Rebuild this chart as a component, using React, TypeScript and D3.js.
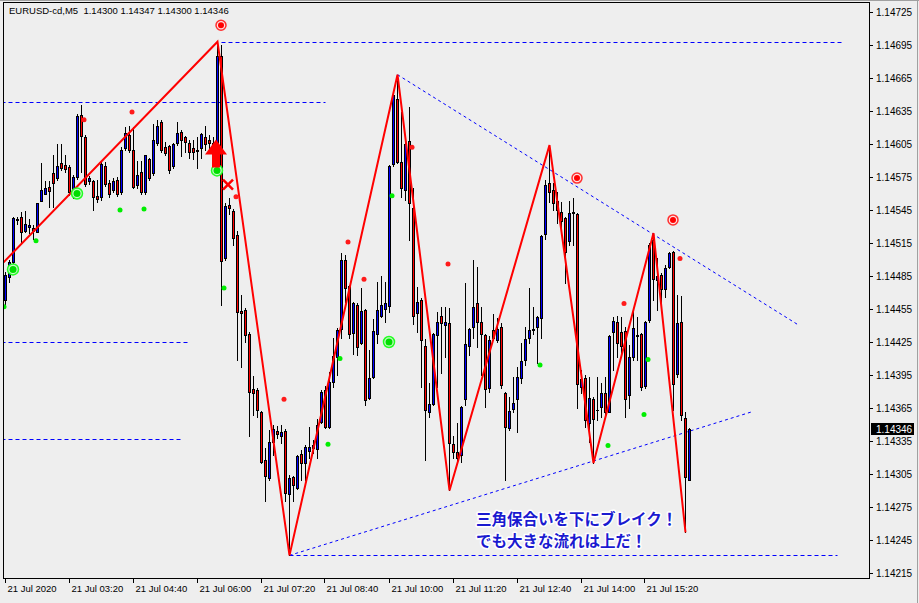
import React, { useRef, useEffect } from 'react';
import * as d3 from 'd3';

// EURUSD-cd M5, 21 Jul 2020 02:00 - 16:15 (one entry per 5 min bar)
const symbolTitle = 'EURUSD-cd,M5';

const opens = [
  1.14463, 1.14484, 1.14498, 1.14536, 1.14539, 1.14526, 1.14530, 1.14529, 1.14525, 1.14553,
  1.14560, 1.14566, 1.14579, 1.14574, 1.14588, 1.14586, 1.14584, 1.14561, 1.14575, 1.14631,
  1.14611, 1.14571, 1.14571, 1.14558, 1.14557, 1.14585, 1.14570, 1.14563, 1.14572, 1.14561,
  1.14601, 1.14613, 1.14600, 1.14568, 1.14580, 1.14561, 1.14591, 1.14579, 1.14606, 1.14625,
  1.14602, 1.14603, 1.14585, 1.14606, 1.14616, 1.14611, 1.14606, 1.14601, 1.14600, 1.14601,
  1.14611, 1.14609, 1.14606, 1.14600, 1.14685, 1.14501, 1.14550, 1.14544, 1.14522, 1.14453,
  1.14454, 1.14432, 1.14382, 1.14381, 1.14361, 1.14318, 1.14301, 1.14334, 1.14344, 1.14340,
  1.14344, 1.14287, 1.14302, 1.14292, 1.14323, 1.14315, 1.14326, 1.14331, 1.14328, 1.14352,
  1.14381, 1.14348, 1.14389, 1.14411, 1.14437, 1.14500, 1.14476, 1.14433, 1.14459, 1.14424,
  1.14454, 1.14374, 1.14393, 1.14432, 1.14449, 1.14455, 1.14458, 1.14587, 1.14646, 1.14589,
  1.14563, 1.14608, 1.14547, 1.14451, 1.14463, 1.14421, 1.14361, 1.14369, 1.14431, 1.14449,
  1.14440, 1.14442, 1.14332, 1.14325, 1.14322, 1.14373, 1.14421, 1.14439, 1.14460, 1.14443,
  1.14431, 1.14383, 1.14436, 1.14427, 1.14439, 1.14379, 1.14347, 1.14364, 1.14373, 1.14392,
  1.14409, 1.14429, 1.14437, 1.14439, 1.14447, 1.14523, 1.14570, 1.14563, 1.14553, 1.14543,
  1.14538, 1.14517, 1.14543, 1.14541, 1.14384, 1.14392, 1.14351, 1.14373, 1.14363, 1.14366,
  1.14379, 1.14361, 1.14434, 1.14443, 1.14434, 1.14435, 1.14377, 1.14411, 1.14430, 1.14432,
  1.14385, 1.14445, 1.14518, 1.14481, 1.14486, 1.14473, 1.14493, 1.14507, 1.14396, 1.14443,
  1.14356, 1.14300,
];
const highs = [
  1.14489, 1.14500, 1.14539, 1.14539, 1.14543, 1.14544, 1.14537, 1.14531, 1.14551, 1.14588,
  1.14571, 1.14571, 1.14595, 1.14605, 1.14605, 1.14595, 1.14586, 1.14577, 1.14632, 1.14640,
  1.14613, 1.14576, 1.14572, 1.14572, 1.14589, 1.14589, 1.14572, 1.14574, 1.14575, 1.14602,
  1.14620, 1.14621, 1.14620, 1.14590, 1.14590, 1.14595, 1.14592, 1.14623, 1.14627, 1.14627,
  1.14607, 1.14604, 1.14606, 1.14625, 1.14618, 1.14612, 1.14609, 1.14609, 1.14611, 1.14615,
  1.14621, 1.14613, 1.14611, 1.14698, 1.14695, 1.14551, 1.14556, 1.14546, 1.14526, 1.14468,
  1.14456, 1.14434, 1.14394, 1.14383, 1.14362, 1.14329, 1.14345, 1.14350, 1.14349, 1.14350,
  1.14346, 1.14304, 1.14303, 1.14322, 1.14327, 1.14331, 1.14348, 1.14336, 1.14355, 1.14381,
  1.14385, 1.14398, 1.14429, 1.14438, 1.14506, 1.14504, 1.14477, 1.14461, 1.14460, 1.14474,
  1.14455, 1.14418, 1.14446, 1.14480, 1.14485, 1.14480, 1.14586, 1.14651, 1.14668, 1.14634,
  1.14607, 1.14639, 1.14565, 1.14475, 1.14465, 1.14428, 1.14388, 1.14433, 1.14452, 1.14457,
  1.14457, 1.14456, 1.14340, 1.14351, 1.14367, 1.14479, 1.14438, 1.14500, 1.14493, 1.14457,
  1.14432, 1.14430, 1.14450, 1.14447, 1.14442, 1.14380, 1.14375, 1.14393, 1.14402, 1.14424,
  1.14439, 1.14474, 1.14457, 1.14449, 1.14522, 1.14572, 1.14604, 1.14570, 1.14561, 1.14552,
  1.14539, 1.14553, 1.14556, 1.14542, 1.14400, 1.14395, 1.14393, 1.14375, 1.14393, 1.14388,
  1.14393, 1.14431, 1.14448, 1.14449, 1.14448, 1.14439, 1.14422, 1.14454, 1.14448, 1.14433,
  1.14444, 1.14515, 1.14524, 1.14501, 1.14488, 1.14495, 1.14507, 1.14508, 1.14468, 1.14467,
  1.14361, 1.14347,
];
const lows = [
  1.14459, 1.14480, 1.14497, 1.14532, 1.14516, 1.14525, 1.14524, 1.14519, 1.14525, 1.14553,
  1.14560, 1.14548, 1.14548, 1.14572, 1.14581, 1.14580, 1.14559, 1.14556, 1.14573, 1.14580,
  1.14567, 1.14569, 1.14545, 1.14552, 1.14554, 1.14567, 1.14557, 1.14561, 1.14558, 1.14560,
  1.14600, 1.14598, 1.14565, 1.14565, 1.14560, 1.14560, 1.14572, 1.14577, 1.14604, 1.14598,
  1.14595, 1.14579, 1.14583, 1.14604, 1.14594, 1.14598, 1.14592, 1.14591, 1.14583, 1.14592,
  1.14600, 1.14600, 1.14595, 1.14586, 1.14459, 1.14500, 1.14541, 1.14513, 1.14409, 1.14402,
  1.14425, 1.14340, 1.14359, 1.14357, 1.14315, 1.14280, 1.14300, 1.14322, 1.14338, 1.14333,
  1.14280, 1.14231, 1.14280, 1.14291, 1.14300, 1.14300, 1.14320, 1.14324, 1.14320, 1.14351,
  1.14347, 1.14347, 1.14384, 1.14395, 1.14429, 1.14461, 1.14429, 1.14414, 1.14413, 1.14423,
  1.14368, 1.14373, 1.14392, 1.14424, 1.14448, 1.14443, 1.14452, 1.14585, 1.14588, 1.14557,
  1.14554, 1.14518, 1.14441, 1.14434, 1.14384, 1.14318, 1.14357, 1.14368, 1.14384, 1.14397,
  1.14411, 1.14290, 1.14320, 1.14315, 1.14316, 1.14368, 1.14413, 1.14429, 1.14420, 1.14395,
  1.14366, 1.14380, 1.14427, 1.14425, 1.14383, 1.14300, 1.14345, 1.14361, 1.14343, 1.14388,
  1.14404, 1.14424, 1.14432, 1.14406, 1.14429, 1.14519, 1.14552, 1.14545, 1.14533, 1.14524,
  1.14479, 1.14513, 1.14513, 1.14365, 1.14379, 1.14348, 1.14334, 1.14315, 1.14354, 1.14357,
  1.14357, 1.14361, 1.14400, 1.14411, 1.14411, 1.14357, 1.14365, 1.14409, 1.14409, 1.14381,
  1.14383, 1.14443, 1.14463, 1.14454, 1.14454, 1.14466, 1.14492, 1.14363, 1.14393, 1.14354,
  1.14252, 1.14300,
];
const closes = [
  1.14486, 1.14498, 1.14538, 1.14537, 1.14525, 1.14532, 1.14531, 1.14526, 1.14551, 1.14563,
  1.14565, 1.14562, 1.14570, 1.14585, 1.14583, 1.14582, 1.14561, 1.14575, 1.14630, 1.14612,
  1.14569, 1.14574, 1.14557, 1.14555, 1.14587, 1.14569, 1.14560, 1.14571, 1.14560, 1.14600,
  1.14615, 1.14600, 1.14566, 1.14577, 1.14561, 1.14595, 1.14574, 1.14609, 1.14621, 1.14600,
  1.14597, 1.14581, 1.14605, 1.14615, 1.14609, 1.14607, 1.14598, 1.14598, 1.14599, 1.14614,
  1.14605, 1.14606, 1.14601, 1.14685, 1.14499, 1.14549, 1.14547, 1.14520, 1.14452, 1.14451,
  1.14431, 1.14380, 1.14379, 1.14363, 1.14316, 1.14303, 1.14334, 1.14346, 1.14341, 1.14343,
  1.14288, 1.14301, 1.14295, 1.14321, 1.14315, 1.14330, 1.14330, 1.14329, 1.14350, 1.14380,
  1.14348, 1.14389, 1.14412, 1.14436, 1.14500, 1.14474, 1.14432, 1.14460, 1.14420, 1.14453,
  1.14372, 1.14392, 1.14435, 1.14454, 1.14459, 1.14460, 1.14585, 1.14650, 1.14589, 1.14565,
  1.14605, 1.14551, 1.14449, 1.14461, 1.14427, 1.14363, 1.14369, 1.14432, 1.14443, 1.14442,
  1.14443, 1.14333, 1.14325, 1.14320, 1.14366, 1.14423, 1.14437, 1.14457, 1.14443, 1.14432,
  1.14382, 1.14427, 1.14429, 1.14437, 1.14386, 1.14348, 1.14362, 1.14370, 1.14393, 1.14408,
  1.14428, 1.14436, 1.14436, 1.14448, 1.14521, 1.14568, 1.14561, 1.14551, 1.14545, 1.14535,
  1.14507, 1.14542, 1.14542, 1.14387, 1.14391, 1.14354, 1.14374, 1.14355, 1.14363, 1.14379,
  1.14361, 1.14430, 1.14444, 1.14424, 1.14421, 1.14373, 1.14411, 1.14438, 1.14431, 1.14384,
  1.14443, 1.14513, 1.14482, 1.14485, 1.14473, 1.14492, 1.14506, 1.14387, 1.14442, 1.14359,
  1.14302, 1.14346,
];

const priceTicks = [
  1.14725, 1.14695, 1.14665, 1.14635, 1.14605, 1.14575, 1.14545, 1.14515, 1.14485,
  1.14455, 1.14425, 1.14395, 1.14365, 1.14335, 1.14305, 1.14275, 1.14245, 1.14215,
];
const timeLabels = [
  '21 Jul 2020', '21 Jul 03:20', '21 Jul 04:40', '21 Jul 06:00', '21 Jul 07:20', '21 Jul 08:40',
  '21 Jul 10:00', '21 Jul 11:20', '21 Jul 12:40', '21 Jul 14:00', '21 Jul 15:20',
];
const barsPerLabel = 16;

// zigzag pivots: [bar, price]
const zigzag: [number, number][] = [
  [-3, 1.14488], [53, 1.14698], [71, 1.14231], [98, 1.14668], [111, 1.14290],
  [136, 1.14604], [147, 1.14315], [162, 1.14524], [170, 1.14252],
];

// signal markers: [bar, price]
const redDots: [number, number][] = [
  [20, 1.14627], [32, 1.14634], [58, 1.14557], [70, 1.14373], [86, 1.14516],
  [90, 1.14482], [102, 1.14602], [111, 1.14496], [155, 1.14460], [169, 1.14501],
];
const greenDots: [number, number][] = [
  [0, 1.14457], [8, 1.14517], [29, 1.14545], [35, 1.14546], [55, 1.14474], [81, 1.14332],
  [84, 1.14410], [97, 1.14558], [134, 1.14404], [151, 1.14331], [160, 1.14359], [161, 1.14409],
];
const redRings: [number, number][] = [[54, 1.14713], [143, 1.14574], [167, 1.14536]];
const greenRings: [number, number][] = [[2, 1.14491], [18, 1.14560], [53, 1.14581], [96, 1.14425]];
const buyArrow: [number, number] = [53, 1.14609];
const exitCross: [number, number] = [56, 1.14568];

// horizontal levels: price, first bar, last bar
const levels = [
  { price: 1.14698, from: 54, to: 209 },
  { price: 1.14643, from: -1, to: 80 },
  { price: 1.14425, from: -1, to: 45.5 },
  { price: 1.14337, from: -1, to: 44 },
  { price: 1.14231, from: 71, to: 208 },
];
// triangle lines: [bar, price] -> [bar, price]
const trendLines: [number, number][][] = [
  [[98, 1.14668], [198, 1.14441]],
  [[71, 1.14231], [187, 1.14362]],
];

const noteLines = ['三角保合いを下にブレイク！', 'でも大きな流れは上だ！'];
const noteAnchor: [number, number] = [118, 1.14259];

const W = 919;
const H = 603;
const frame = { left: 3, top: 2, right: 869, bottom: 578 };
const axisFont = '"Liberation Sans", Arial, sans-serif';

export default function App() {
  const svgRef = useRef<SVGSVGElement>(null);

  useEffect(() => {
    if (!svgRef.current) return;
    const svg = d3.select(svgRef.current);
    svg.selectAll('*').remove();

    const n = closes.length;
    const x = d3.scaleLinear().domain([0, n - 1]).range([5.5, 5.5 + 4 * (n - 1)]);
    const y = d3.scaleLinear().domain([1.14725, 1.14215]).range([12, 573]);
    const py = (p: number) => Math.round(y(p)) + 0.5;

    svg.append('rect').attr('width', W).attr('height', H).attr('fill', '#eeeeee');

    const defs = svg.append('defs');
    defs.append('clipPath').attr('id', 'plot-clip')
      .append('rect')
      .attr('x', frame.left + 1).attr('y', frame.top + 1)
      .attr('width', frame.right - frame.left - 1)
      .attr('height', frame.bottom - frame.top - 1);

    const g = svg.append('g').attr('clip-path', 'url(#plot-clip)');

    // horizontal dashed levels
    g.selectAll('line.level')
      .data(levels)
      .join('line')
      .attr('class', 'level')
      .attr('x1', d => x(d.from)).attr('x2', d => x(d.to))
      .attr('y1', d => py(d.price)).attr('y2', d => py(d.price))
      .attr('stroke', '#0000ff').attr('stroke-width', 1)
      .attr('stroke-dasharray', '4,3');

    // triangle lines
    g.selectAll('line.trend')
      .data(trendLines)
      .join('line')
      .attr('class', 'trend')
      .attr('x1', d => x(d[0][0])).attr('y1', d => y(d[0][1]))
      .attr('x2', d => x(d[1][0])).attr('y2', d => y(d[1][1]))
      .attr('stroke', '#0000ff').attr('stroke-width', 1)
      .attr('stroke-dasharray', '3,3');

    // candles
    const bars = d3.range(n);
    g.selectAll('line.wick')
      .data(bars)
      .join('line')
      .attr('class', 'wick')
      .attr('x1', i => x(i)).attr('x2', i => x(i))
      .attr('y1', i => Math.round(y(highs[i])))
      .attr('y2', i => Math.round(y(lows[i])) + 1)
      .attr('stroke', '#000');

    bars.forEach(i => {
      const top = Math.round(y(Math.max(opens[i], closes[i])));
      const bot = Math.round(y(Math.min(opens[i], closes[i])));
      if (bot - top < 1) {
        g.append('line')
          .attr('x1', x(i) - 1.5).attr('x2', x(i) + 1.5)
          .attr('y1', top + 0.5).attr('y2', top + 0.5)
          .attr('stroke', '#000');
        return;
      }
      g.append('rect')
        .attr('x', x(i) - 1).attr('y', top + 0.5)
        .attr('width', 2).attr('height', bot - top)
        .attr('fill', closes[i] >= opens[i] ? '#0000ff' : '#ff0000')
        .attr('stroke', '#000').attr('stroke-width', 1);
    });

    // zigzag
    const zz = d3.line<[number, number]>().x(d => x(d[0])).y(d => y(d[1]));
    g.append('path')
      .attr('d', zz(zigzag))
      .attr('fill', 'none')
      .attr('stroke', '#ff0000')
      .attr('stroke-width', 2);

    // dots
    g.selectAll('circle.rdot')
      .data(redDots)
      .join('circle')
      .attr('class', 'rdot')
      .attr('cx', d => x(d[0]) - 1.5).attr('cy', d => y(d[1]))
      .attr('r', 2.5).attr('fill', '#ff1a1a');
    g.selectAll('circle.gdot')
      .data(greenDots)
      .join('circle')
      .attr('class', 'gdot')
      .attr('cx', d => x(d[0]) - 1.5).attr('cy', d => y(d[1]))
      .attr('r', 2.5).attr('fill', '#00ee00');

    // ring markers
    redRings.forEach(d => {
      const cx = x(d[0]) - 0.5, cy = y(d[1]);
      g.append('circle').attr('cx', cx).attr('cy', cy).attr('r', 5)
        .attr('fill', '#ffe0e0').attr('stroke', '#ff3030').attr('stroke-width', 1.5);
      g.append('circle').attr('cx', cx).attr('cy', cy).attr('r', 3).attr('fill', '#ff0000');
    });
    greenRings.forEach(d => {
      const cx = x(d[0]) - 0.5, cy = y(d[1]);
      g.append('circle').attr('cx', cx).attr('cy', cy).attr('r', 5.5)
        .attr('fill', '#c8f8c8').attr('stroke', '#22ff22').attr('stroke-width', 1.5);
      g.append('circle').attr('cx', cx).attr('cy', cy).attr('r', 3.5).attr('fill', '#00dd00');
    });

    // buy arrow
    const ax = x(buyArrow[0]) - 1.5, ay = y(buyArrow[1]);
    g.append('path')
      .attr('d', `M${ax},${ay} L${ax + 11},${ay + 15} L${ax + 4},${ay + 15} L${ax + 4},${ay + 28}
        L${ax - 4},${ay + 28} L${ax - 4},${ay + 15} L${ax - 11},${ay + 15} Z`)
      .attr('fill', '#ff0000');

    // exit cross
    const exX = x(exitCross[0]) - 1.5, exY = y(exitCross[1]);
    g.append('path')
      .attr('d', `M${exX - 5},${exY - 5} L${exX + 5},${exY + 5} M${exX - 5},${exY + 5} L${exX + 5},${exY - 5}`)
      .attr('stroke', '#ff0000').attr('stroke-width', 2.5);

    // note
    const note = svg.append('g')
      .attr('font-family', '"Noto Sans CJK JP", sans-serif')
      .attr('font-weight', 'bold')
      .attr('font-size', 15.5);
    noteLines.forEach((t, k) => {
      note.append('text')
        .attr('x', x(noteAnchor[0]) - 1.5)
        .attr('y', y(noteAnchor[1]) + k * 22.5)
        .attr('fill', '#1a1ad0')
        .attr('stroke', '#ffffff').attr('stroke-width', 3)
        .attr('stroke-linejoin', 'round')
        .attr('paint-order', 'stroke')
        .text(t);
    });

    // frame
    svg.append('rect')
      .attr('x', frame.left + 0.5).attr('y', frame.top + 0.5)
      .attr('width', frame.right - frame.left).attr('height', frame.bottom - frame.top)
      .attr('fill', 'none').attr('stroke', '#000');

    // price axis
    const pa = svg.append('g').attr('font-family', axisFont).attr('font-size', 10);
    priceTicks.forEach(p => {
      pa.append('line')
        .attr('x1', frame.right + 1).attr('x2', frame.right + 4)
        .attr('y1', py(p)).attr('y2', py(p)).attr('stroke', '#000');
      pa.append('text').attr('x', frame.right + 7).attr('y', py(p) + 3.5).attr('fill', '#000').text(p.toFixed(5));
    });
    const last = closes[n - 1];
    pa.append('rect')
      .attr('x', frame.right + 2).attr('y', py(last) - 6.5)
      .attr('width', 43).attr('height', 12).attr('fill', '#000');
    pa.append('text').attr('x', frame.right + 7).attr('y', py(last) + 3.5).attr('fill', '#fff').text(last.toFixed(5));

    // time axis
    const ta = svg.append('g').attr('font-family', axisFont).attr('font-size', 9.5);
    timeLabels.forEach((t, k) => {
      const bx = Math.round(x(k * barsPerLabel)) - 0.5;
      ta.append('line')
        .attr('x1', bx).attr('x2', bx)
        .attr('y1', frame.bottom + 1).attr('y2', frame.bottom + 5).attr('stroke', '#000');
      ta.append('text').attr('x', bx + 2).attr('y', frame.bottom + 14).attr('fill', '#000').text(t);
    });

    // header
    svg.append('text')
      .attr('x', 9).attr('y', 14)
      .attr('font-family', axisFont).attr('font-size', 9.5).attr('fill', '#000')
      .attr('xml:space', 'preserve')
      .text(`${symbolTitle}  ${opens[n - 1].toFixed(5)} ${highs[n - 1].toFixed(5)} ${lows[n - 1].toFixed(5)} ${closes[n - 1].toFixed(5)}`);

    // window edges
    svg.append('line').attr('x1', 0).attr('x2', W).attr('y1', 0.5).attr('y2', 0.5).attr('stroke', '#a0a0a0');
    svg.append('line').attr('x1', W - 1.5).attr('x2', W - 1.5).attr('y1', 0).attr('y2', H).attr('stroke', '#a0a0a0');
  }, []);

  return (
    <div style={{ position: 'absolute', left: 0, top: 0 }}>
      <svg ref={svgRef} width={W} height={H} style={{ display: 'block' }} />
    </div>
  );
}
